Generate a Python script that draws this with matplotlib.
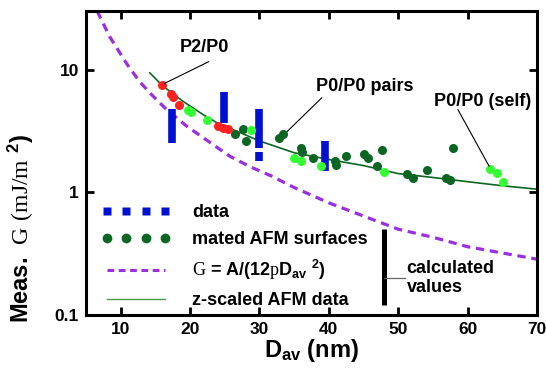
import matplotlib
matplotlib.use("Agg")
import matplotlib.pyplot as plt
from matplotlib.lines import Line2D

plt.rcParams['font.family'] = ['Liberation Sans', 'DejaVu Sans']
plt.rcParams['font.weight'] = 'bold'
plt.rcParams['axes.labelweight'] = 'bold'
plt.rcParams['mathtext.fontset'] = 'custom'
plt.rcParams['mathtext.rm'] = 'Liberation Serif:weight=normal'
plt.rcParams['mathtext.bf'] = 'Liberation Sans:bold'
plt.rcParams['mathtext.it'] = 'Liberation Sans:bold'

# measured data: vertical bars (D, G low, G high)
bar_d = [17.4, 24.9, 29.9, 29.9, 39.5]
bar_lo = [2.54, 3.69, 2.31, 1.79, 1.49]
bar_hi = [4.73, 6.58, 4.73, 2.11, 2.62]

# mated AFM surfaces
red_d = [15.9, 17.2, 17.5, 18.4, 24.0, 24.7, 25.5]
red_g = [7.55, 6.27, 5.95, 5.13, 3.46, 3.36, 3.26]

light_d = [19.7, 20.2, 22.5, 28.8, 35.0, 36.0, 38.9, 47.9, 63.2, 64.2, 65.1]
light_g = [4.67, 4.5, 3.9, 3.23, 1.89, 1.79, 1.64, 1.46, 1.56, 1.43, 1.21]

dark_d = [26.5, 27.7, 28.0, 32.8, 33.4, 36.0, 36.1, 37.7, 40.9, 41.0, 42.5,
          45.0, 45.7, 47.7, 46.9, 51.3, 52.2, 54.1, 57.9, 56.9, 57.4]
dark_g = [2.96, 3.29, 2.63, 2.78, 2.96, 2.31, 2.13, 1.91, 1.79, 1.66, 1.97,
          2.04, 1.91, 2.22, 1.64, 1.4, 1.31, 1.52, 2.31, 1.31, 1.26]

# G = A/(12 pi D^2) curve
model_d = [6.6, 8.4, 10.8, 12.7, 14.5, 16.6, 19.5, 22.6, 25.7, 28.6, 31.8,
           34.9, 40, 45, 50, 55, 60, 65, 70]
model_g = [30, 18.6, 11.3, 8.0, 6.2, 4.73, 3.46, 2.61, 1.97, 1.62, 1.35,
           1.1, 0.82, 0.64, 0.5, 0.43, 0.36, 0.32, 0.285]

# z-scaled AFM data
zs_d = [14.2, 16, 19, 22, 24, 27, 30, 35, 40, 45, 50, 55, 60, 65, 70]
zs_g = [9.4, 7.4, 5.5, 4.25, 3.65, 3.1, 2.62, 2.1, 1.85, 1.65, 1.42, 1.32, 1.22, 1.13, 1.06]

xticks = [10, 20, 30, 40, 50, 60, 70]
yticks = [0.1, 1, 10]
ytick_labels = ['0.1', '1', '10']

blue = '#0010d0'
dgreen = '#0b6623'
lgreen = '#33ff33'
red = '#ff2020'
purple = '#9a2ee0'

fig = plt.figure(figsize=(5.46, 3.73), dpi=100)
ax = fig.add_axes([0.1575, 0.1555, 0.826, 0.815])

ax.plot(model_d, model_g, color=purple, lw=2.3, dashes=(2.6, 1.8))
ax.plot(zs_d, zs_g, color=dgreen, lw=1.2)
ax.vlines(bar_d, bar_lo, bar_hi, color=blue, lw=5.5, capstyle='butt')
ax.plot(dark_d, dark_g, 'o', color=dgreen, ms=6.5, mec='none')
ax.plot(light_d, light_g, 'o', color=lgreen, ms=6.5, mec='none')
ax.plot(red_d, red_g, 'o', color=red, ms=6.5, mec='none')

# calculated values marker
ax.vlines([47.9], [0.12], [0.5], color='black', lw=3.6, capstyle='butt')
ax.plot([48.0, 51.0], [0.2, 0.2], color='#666666', lw=0.9)
ax.text(51.2, 0.2, "calculated\nvalues", fontsize=13, va='center', ha='left',
        linespacing=1.15)

# annotations
ax.text(22.1, 15.1, "P2/P0", fontsize=13, ha='center', va='center')
ax.annotate("", xy=(16.3, 7.7), xytext=(22.7, 11.6),
            arrowprops=dict(arrowstyle='-', color='black', lw=0.8, shrinkA=0, shrinkB=0))
ax.text(45.2, 7.27, "P0/P0 pairs", fontsize=13, ha='center', va='center')
ax.annotate("", xy=(34.0, 3.13), xytext=(39.0, 5.9),
            arrowprops=dict(arrowstyle='-', color='black', lw=0.8, shrinkA=0, shrinkB=0))
ax.text(62.2, 5.5, "P0/P0 (self)", fontsize=13, ha='center', va='center')
ax.annotate("", xy=(63.1, 1.63), xytext=(58.6, 4.72),
            arrowprops=dict(arrowstyle='-', color='black', lw=0.8, shrinkA=0, shrinkB=0))

ax.set_yscale('log')
ax.set_xlim(5, 70)
ax.set_ylim(0.1, 30)
ax.set_xticks(xticks)
ax.set_xticklabels([str(t) for t in xticks], fontweight='bold')
ax.set_yticks(yticks)
ax.set_yticklabels(ytick_labels, fontweight='bold')
ax.minorticks_off()
ax.tick_params(direction='in', top=True, right=True, length=5.5, width=2,
               labelsize=12.5, pad=5)
for s in ax.spines.values():
    s.set_linewidth(2.2)

ax.set_xlabel(r"D$_{\mathbf{av}}$ (nm)", fontsize=17, labelpad=0)
ax.set_ylabel(r"Meas.  $\mathrm{G\ (mJ/m}\ ^{\mathbf{2}}\mathbf{)}$", fontsize=17)
ax.yaxis.set_label_coords(-0.11, 0.285)

handles = [
    Line2D([], [], ls='none', marker='s', color=blue, ms=5.5, mec='none'),
    Line2D([], [], ls='none', marker='o', color=dgreen, ms=7, mec='none'),
    Line2D([], [], color=purple, lw=2.2, dashes=(2.2, 1.5)),
    Line2D([], [], color='#4a9a4a', lw=1.0),
]
labels = ["data", "mated AFM surfaces",
          r"$\mathrm{G}$ = A/(12$\mathrm{p}$D$_{\mathbf{av}}$ $^{\mathbf{2}}$)",
          "z-scaled AFM data"]
ax.legend(handles, labels, loc='upper left', bbox_to_anchor=(0.035, 0.365),
          frameon=False, numpoints=4, handlelength=3.8, handletextpad=1.2,
          labelspacing=0.56, borderpad=0, borderaxespad=0, fontsize=13)

fig.savefig("out.png", dpi=100)
